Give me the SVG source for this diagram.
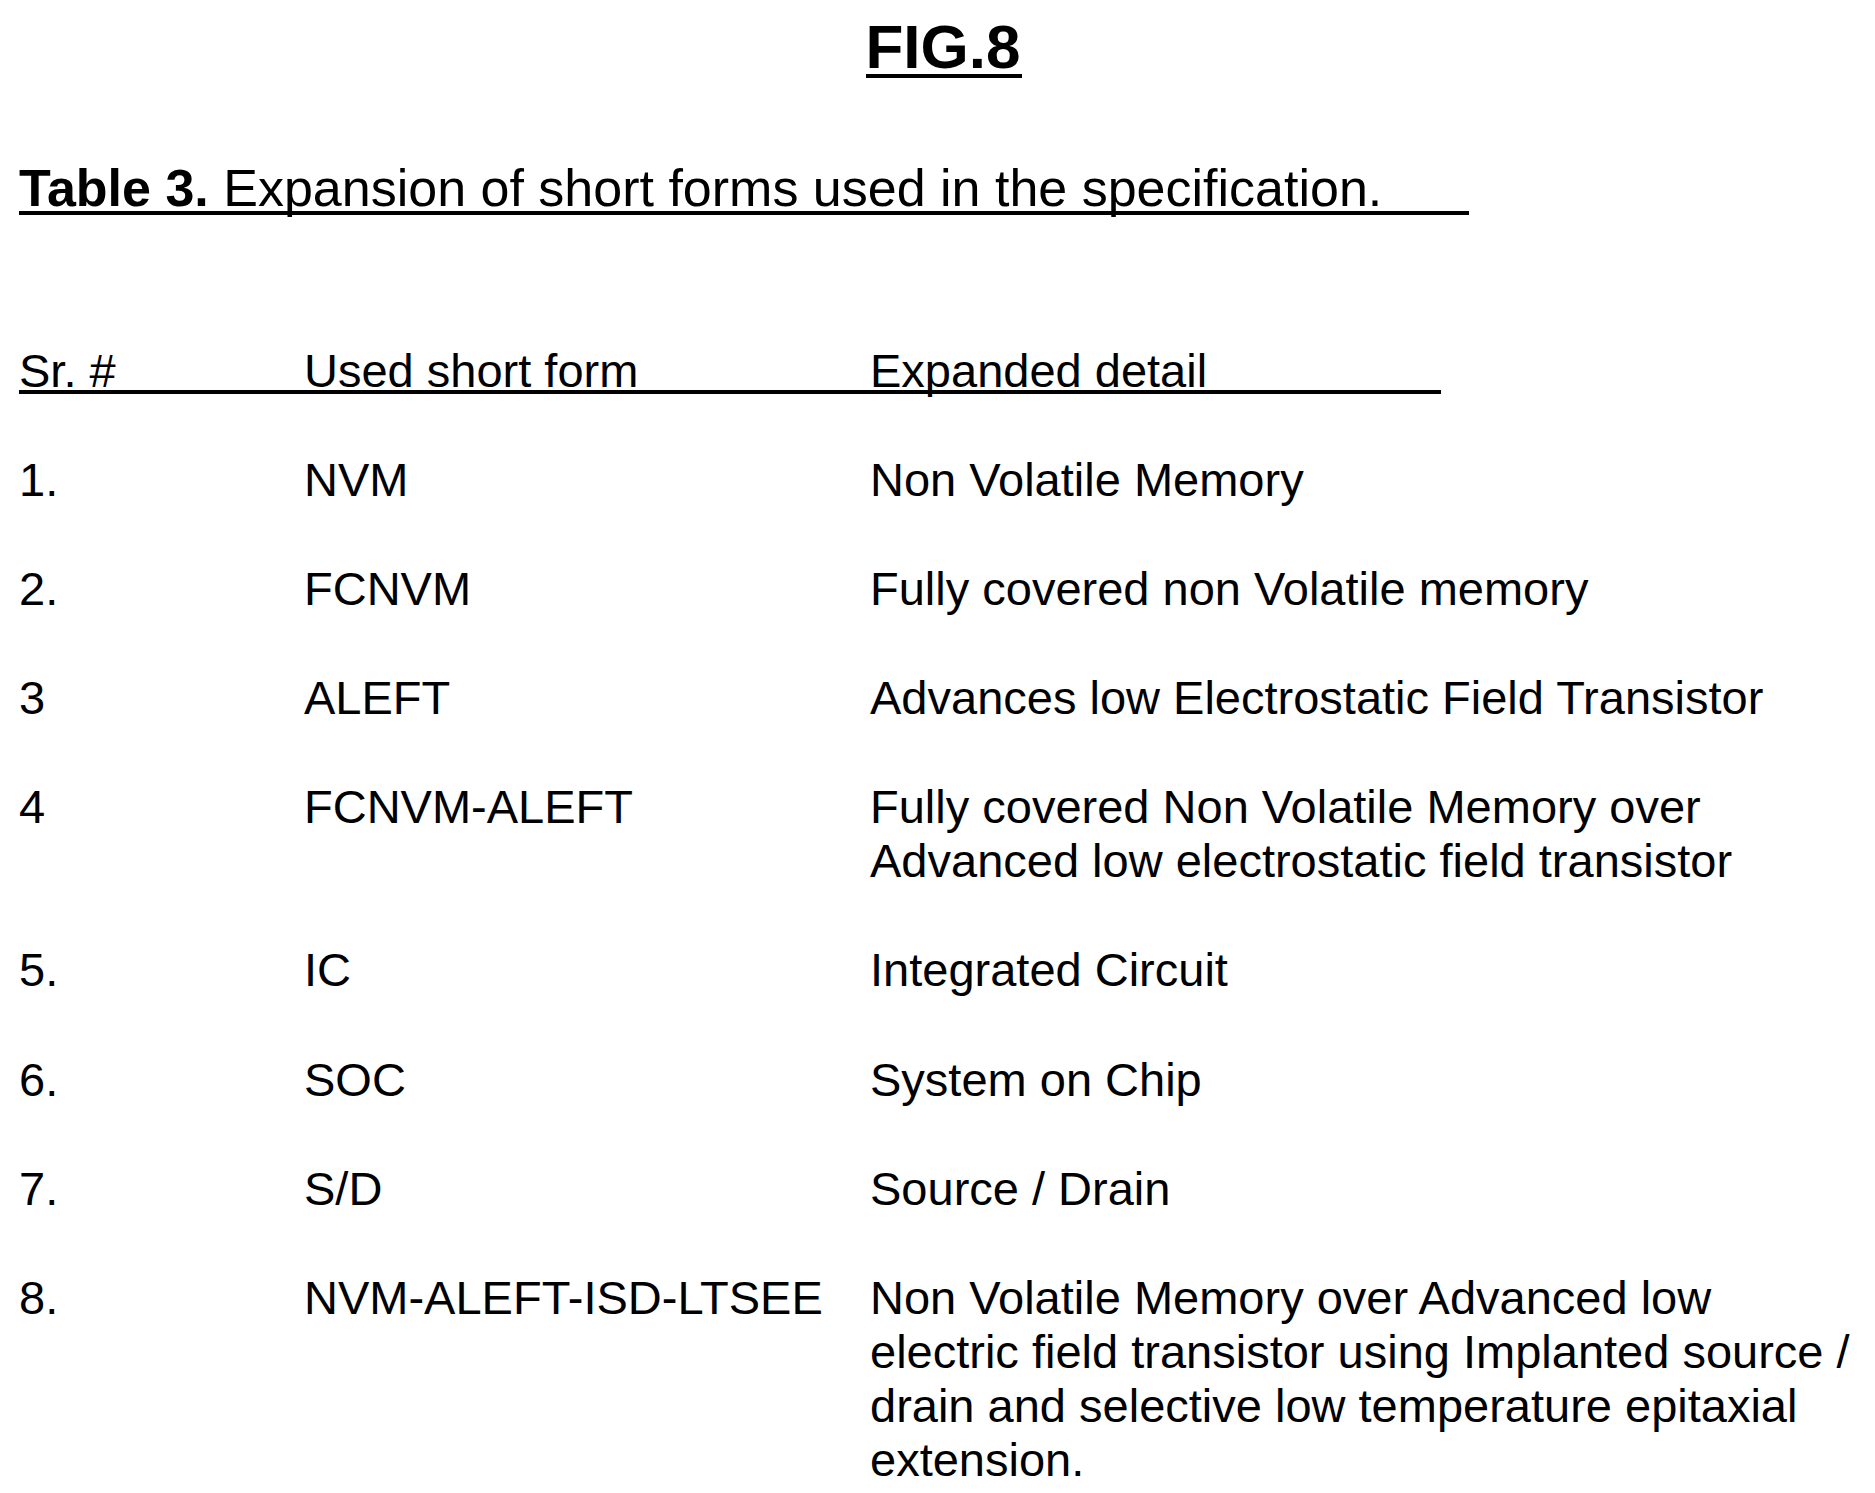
<svg xmlns="http://www.w3.org/2000/svg" width="1875" height="1493" viewBox="0 0 1875 1493">
<style>
text{font-family:"Liberation Sans",Arial,sans-serif;fill:#000;font-size:47px}
.ln{stroke:#000;stroke-width:4}
</style>
<rect width="1875" height="1493" fill="#fff"/>
<g id="fig-title">
<text x="943" y="68" text-anchor="middle" font-weight="bold" style="font-size:62px">FIG.8</text>
<line class="ln" x1="866" y1="76" x2="1022" y2="76"/>
</g>
<g id="table-title">
<text x="19" y="206" style="font-size:52px"><tspan font-weight="bold">Table 3.</tspan> Expansion of short forms used in the specification.</text>
<line class="ln" x1="19" y1="213" x2="1469" y2="213"/>
</g>
<g id="header">
<text x="19" y="387">Sr. #</text>
<text x="304" y="387">Used short form</text>
<text x="870" y="387">Expanded detail</text>
<line class="ln" x1="19" y1="392" x2="1441" y2="392" stroke-width="5"/>
</g>
<g id="row1"><text x="19" y="496">1.</text><text x="304" y="496">NVM</text><text x="870" y="496">Non Volatile Memory</text></g>
<g id="row2"><text x="19" y="605">2.</text><text x="304" y="605">FCNVM</text><text x="870" y="605">Fully covered non Volatile memory</text></g>
<g id="row3"><text x="19" y="714">3</text><text x="304" y="714">ALEFT</text><text x="870" y="714">Advances low Electrostatic Field Transistor</text></g>
<g id="row4"><text x="19" y="823">4</text><text x="304" y="823">FCNVM-ALEFT</text><text x="870" y="823">Fully covered Non Volatile Memory over</text><text x="870" y="877">Advanced low electrostatic field transistor</text></g>
<g id="row5"><text x="19" y="986">5.</text><text x="304" y="986">IC</text><text x="870" y="986">Integrated Circuit</text></g>
<g id="row6"><text x="19" y="1096">6.</text><text x="304" y="1096">SOC</text><text x="870" y="1096">System on Chip</text></g>
<g id="row7"><text x="19" y="1205">7.</text><text x="304" y="1205">S/D</text><text x="870" y="1205">Source / Drain</text></g>
<g id="row8"><text x="19" y="1314">8.</text><text x="304" y="1314">NVM-ALEFT-ISD-LTSEE</text><text x="870" y="1314">Non Volatile Memory over Advanced low</text><text x="870" y="1368">electric field transistor using Implanted source /</text><text x="870" y="1422">drain and selective low temperature epitaxial</text><text x="870" y="1476">extension.</text></g>
</svg>
